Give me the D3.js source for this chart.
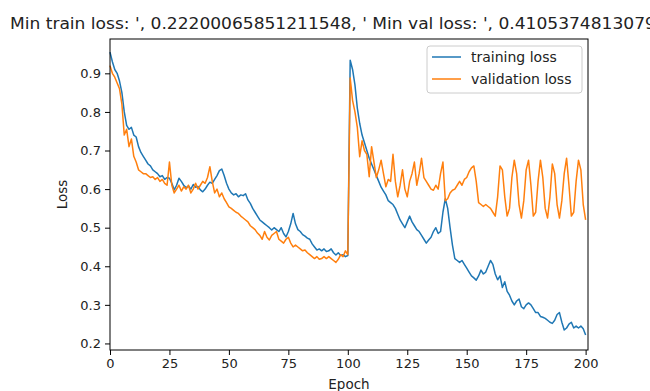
<!DOCTYPE html>
<html>
<head>
<meta charset="utf-8">
<script src="https://cdn.jsdelivr.net/npm/d3@7"></script>
<style>
  body { margin: 0; background: #fff; }
  svg text { font-family: "DejaVu Sans", sans-serif; fill: #222; }
</style>
</head>
<body>
<div id="chart"></div>
<script>
const trainLoss = [
  0.955, 0.93, 0.91, 0.90, 0.88, 0.85, 0.80, 0.765, 0.755, 0.76,
  0.74, 0.735, 0.71, 0.695, 0.685, 0.675, 0.665, 0.66, 0.65, 0.645,
  0.64, 0.632, 0.635, 0.625, 0.63, 0.628, 0.615, 0.598, 0.61, 0.628,
  0.62, 0.61, 0.604, 0.608, 0.60, 0.612, 0.605, 0.607, 0.598, 0.593,
  0.60, 0.61, 0.618, 0.615, 0.625, 0.635, 0.648, 0.652, 0.635, 0.615,
  0.60, 0.59, 0.585, 0.588, 0.58, 0.585, 0.583, 0.588, 0.572, 0.563,
  0.55, 0.54, 0.53, 0.52, 0.515, 0.51, 0.505, 0.50, 0.494, 0.50,
  0.495, 0.49, 0.50, 0.485, 0.476, 0.49, 0.51, 0.537, 0.51, 0.495,
  0.49, 0.482, 0.478, 0.473, 0.47, 0.458, 0.45, 0.442, 0.445, 0.44,
  0.445, 0.438, 0.44, 0.445, 0.435, 0.429, 0.435, 0.428, 0.43, 0.425,
  0.428, 0.934, 0.91, 0.87, 0.81, 0.77, 0.74, 0.72, 0.70, 0.68,
  0.665, 0.65, 0.635, 0.62, 0.605, 0.595, 0.585, 0.57, 0.565, 0.56,
  0.55, 0.535, 0.52, 0.51, 0.50, 0.515, 0.53, 0.515, 0.505, 0.495,
  0.49, 0.48, 0.47, 0.46, 0.468, 0.475, 0.49, 0.50, 0.485, 0.49,
  0.54, 0.575, 0.55, 0.50, 0.455, 0.42, 0.415, 0.41, 0.415, 0.405,
  0.395, 0.385, 0.375, 0.37, 0.364, 0.375, 0.39, 0.38, 0.385, 0.40,
  0.415, 0.405, 0.38, 0.365, 0.375, 0.345, 0.36, 0.335, 0.325, 0.31,
  0.30, 0.31, 0.315, 0.295, 0.29, 0.30, 0.305, 0.30, 0.29, 0.28,
  0.28, 0.27, 0.268, 0.265, 0.26, 0.255, 0.252, 0.26, 0.275, 0.28,
  0.255, 0.235, 0.24, 0.25, 0.255, 0.24, 0.245, 0.24, 0.245, 0.238,
  0.222
];

const valLoss = [
  0.92, 0.90, 0.89, 0.875, 0.86, 0.82, 0.74, 0.755, 0.71, 0.73,
  0.685, 0.67, 0.65, 0.645, 0.64, 0.64, 0.635, 0.63, 0.632, 0.625,
  0.63, 0.62, 0.625, 0.615, 0.61, 0.67, 0.61, 0.59, 0.60, 0.61,
  0.595, 0.606, 0.60, 0.61, 0.59, 0.60, 0.615, 0.60, 0.61, 0.62,
  0.615, 0.63, 0.658, 0.62, 0.59, 0.60, 0.58, 0.59, 0.575, 0.565,
  0.554, 0.55, 0.545, 0.54, 0.537, 0.53, 0.525, 0.52, 0.515, 0.505,
  0.50, 0.495, 0.486, 0.48, 0.47, 0.49, 0.475, 0.468, 0.48, 0.485,
  0.49, 0.47, 0.465, 0.46, 0.47, 0.475, 0.46, 0.45, 0.455, 0.45,
  0.445, 0.44, 0.442, 0.435, 0.43, 0.425, 0.42, 0.425, 0.418, 0.42,
  0.425, 0.42, 0.425, 0.42, 0.415, 0.41, 0.418, 0.43, 0.425, 0.44,
  0.43, 0.888, 0.83, 0.80, 0.76, 0.684, 0.725, 0.70, 0.69, 0.632,
  0.71, 0.67, 0.63, 0.65, 0.675, 0.64, 0.606, 0.625, 0.62, 0.69,
  0.62, 0.58, 0.61, 0.65, 0.60, 0.58, 0.62, 0.64, 0.67, 0.61,
  0.64, 0.68, 0.63, 0.62, 0.61, 0.60, 0.597, 0.61, 0.60, 0.64,
  0.67, 0.57, 0.575, 0.59, 0.597, 0.60, 0.61, 0.62, 0.61, 0.625,
  0.63, 0.645, 0.655, 0.66, 0.62, 0.565, 0.56, 0.555, 0.56, 0.555,
  0.55, 0.54, 0.53, 0.58, 0.66, 0.65, 0.58, 0.53, 0.55, 0.63,
  0.675, 0.64, 0.56, 0.525, 0.57, 0.65, 0.675, 0.61, 0.53, 0.54,
  0.62, 0.675, 0.63, 0.55, 0.525, 0.58, 0.665, 0.64, 0.56, 0.525,
  0.57, 0.64, 0.68, 0.61, 0.53, 0.54, 0.62, 0.675, 0.65, 0.56,
  0.52
];

const xTicks = [0, 25, 50, 75, 100, 125, 150, 175, 200];
const yTicks = [0.2, 0.3, 0.4, 0.5, 0.6, 0.7, 0.8, 0.9];
const seriesNames = ["training loss", "validation loss"];
const seriesColors = ["#1f77b4", "#ff7f0e"];
const titleShown = "Min train loss: ', 0.22200065851211548, ' Min val loss: ', 0.410537481307";
const titleRest = "9834";

const width = 650, height = 391;
const margin = { top: 39, right: 62, bottom: 41, left: 110 };

const svg = d3.select("#chart")
    .append("svg")
    .attr("width", width)
    .attr("height", height);

const x = d3.scaleLinear()
    .domain([0, 201])
    .range([margin.left, width - margin.right]);

const y = d3.scaleLinear()
    .domain([0.183, 0.989])
    .range([height - margin.bottom, margin.top]);

const line = d3.line()
    .x((d, i) => x(i))
    .y(d => y(d));

[trainLoss, valLoss].forEach((s, k) => {
    svg.append("path")
        .datum(s)
        .attr("fill", "none")
        .attr("stroke", seriesColors[k])
        .attr("stroke-width", 1.5)
        .attr("stroke-linejoin", "round")
        .attr("d", line);
});

// frame
svg.append("rect")
    .attr("x", margin.left)
    .attr("y", margin.top)
    .attr("width", width - margin.right - margin.left)
    .attr("height", height - margin.bottom - margin.top)
    .attr("fill", "none")
    .attr("stroke", "#000")
    .attr("stroke-width", 1);

function xAxis(g) {
    g.attr("transform", `translate(0,${height - margin.bottom})`)
        .call(d3.axisBottom(x).tickValues(xTicks).tickSize(5).tickPadding(4).tickFormat(d3.format("d")))
        .call(g => g.select(".domain").remove())
        .attr("font-size", "13px")
        .attr("font-family", "DejaVu Sans");
}

function yAxis(g) {
    g.attr("transform", `translate(${margin.left},0)`)
        .call(d3.axisLeft(y).tickValues(yTicks).tickSize(5).tickPadding(4).tickFormat(d3.format(".1f")))
        .call(g => g.select(".domain").remove())
        .attr("font-size", "13px")
        .attr("font-family", "DejaVu Sans");
}

svg.append("g").call(xAxis);
svg.append("g").call(yAxis);

svg.append("text")
    .attr("x", (margin.left + width - margin.right) / 2)
    .attr("y", 389)
    .attr("text-anchor", "middle")
    .attr("font-size", "13.5px")
    .text("Epoch");

svg.append("text")
    .attr("transform", `translate(67,${(margin.top + height - margin.bottom) / 2}) rotate(-90)`)
    .attr("text-anchor", "middle")
    .attr("font-size", "13.5px")
    .text("Loss");

const title = svg.append("text")
    .attr("x", 10)
    .attr("y", 29)
    .attr("font-size", "16px");
title.append("tspan")
    .attr("textLength", 635)
    .attr("lengthAdjust", "spacingAndGlyphs")
    .text(titleShown);
title.append("tspan").text(titleRest);

// legend
const legend = svg.append("g").attr("transform", "translate(427,46)");
legend.append("rect")
    .attr("width", 155)
    .attr("height", 47)
    .attr("rx", 3)
    .attr("fill", "#fff")
    .attr("fill-opacity", 0.8)
    .attr("stroke", "#ccc");

seriesNames.forEach((name, k) => {
    const row = legend.append("g").attr("transform", `translate(0,${11 + k * 22})`);
    row.append("line")
        .attr("x1", 5).attr("x2", 34)
        .attr("stroke", seriesColors[k])
        .attr("stroke-width", 1.5);
    row.append("text")
        .attr("x", 44)
        .attr("dy", "0.35em")
        .attr("font-size", "14px")
        .text(name);
});
</script>
</body>
</html>
